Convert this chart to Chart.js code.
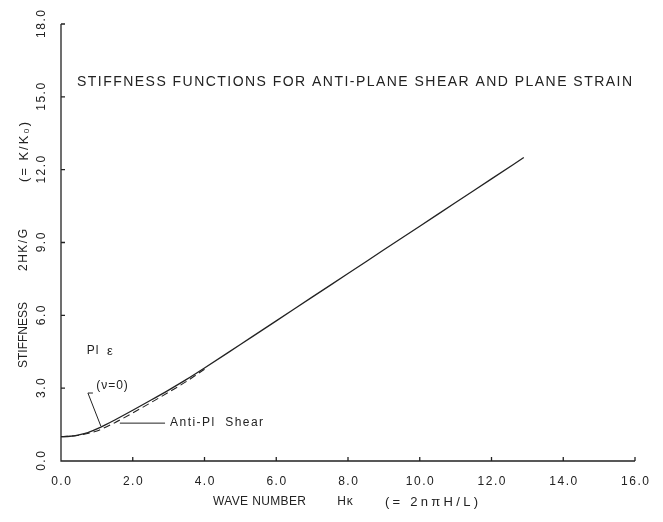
<!DOCTYPE html>
<html lang="en">
<head>
<meta charset="UTF-8">
<title>Stiffness functions</title>
<script src="https://cdn.jsdelivr.net/npm/chart.js"></script>
<style>
  body { margin: 0; background: #fff; }
  #wrap { width: 663px; height: 522px; }
</style>
</head>
<body>
<div id="wrap"><canvas id="stiffness-chart" width="663" height="522"></canvas></div>
<script>
// wave number Hk and stiffness 2HK/G
const waveNumber = [0, 0.25, 0.5, 0.75, 1.0, 1.25, 1.5, 2.0, 2.5, 3.0, 3.5, 4.0, 5.0, 6.0, 7.0, 8.0, 9.0, 10.0, 11.0, 12.0, 12.9];
const planeStrain = [1.0, 1.02, 1.08, 1.17, 1.32, 1.5, 1.69, 2.09, 2.5, 2.92, 3.36, 3.83, 4.8, 5.77, 6.75, 7.72, 8.7, 9.67, 10.65, 11.62, 12.5];
// anti-plane shear only separates from the plane strain curve at low Hk
const antiPlaneWave = [0, 0.5, 1.0, 1.5, 2.0, 2.5, 3.0, 3.5, 4.0];
const antiPlaneShear = [1.0, 1.06, 1.24, 1.58, 1.98, 2.4, 2.83, 3.28, 3.78];
const xTicks = [0, 2, 4, 6, 8, 10, 12, 14, 16];
const yTicks = [0, 3, 6, 9, 12, 15, 18];

const ink = '#222';
const font = '"Liberation Sans", "DejaVu Sans", sans-serif';

// text with optional letter spacing so it spreads to a given width
function drawText(ctx, text, px, py, size, opts = {}) {
  ctx.save();
  ctx.font = size + 'px ' + font;
  ctx.letterSpacing = '0px';
  let w = ctx.measureText(text).width;
  let spacing = opts.spacing || 0;
  if (opts.width) spacing = Math.max(0, (opts.width - w) / (text.length - 1));
  ctx.letterSpacing = spacing + 'px';
  w = w + spacing * (text.length - 1);
  ctx.translate(px, py);
  if (opts.rotate) ctx.rotate(opts.rotate);
  ctx.textAlign = 'left';
  ctx.textBaseline = 'middle';
  const x0 = opts.align === 'center' ? -w / 2 : 0;
  ctx.fillText(text, x0, 0);
  ctx.restore();
}

const plotterAxes = {
  id: 'plotterAxes',
  afterDatasetsDraw(chart) {
    const { ctx, scales: { x, y } } = chart;
    const left = x.getPixelForValue(0), right = x.getPixelForValue(16);
    const bottom = y.getPixelForValue(0), top = y.getPixelForValue(18);
    ctx.save();
    ctx.strokeStyle = ink;
    ctx.fillStyle = ink;
    ctx.lineWidth = 1.3;

    // axes with inward ticks
    ctx.beginPath();
    ctx.moveTo(left, top);
    ctx.lineTo(left, bottom);
    ctx.lineTo(right, bottom);
    xTicks.forEach(v => {
      const px = x.getPixelForValue(v);
      ctx.moveTo(px, bottom);
      ctx.lineTo(px, bottom - 4);
    });
    yTicks.forEach(v => {
      const py = y.getPixelForValue(v);
      ctx.moveTo(left, py);
      ctx.lineTo(left + 4, py);
    });
    ctx.stroke();

    xTicks.forEach(v => drawText(ctx, v.toFixed(1), x.getPixelForValue(v), bottom + 21, 12, { spacing: 1.5, align: 'center' }));
    yTicks.forEach(v => drawText(ctx, v.toFixed(1), left - 19, y.getPixelForValue(v), 12, { spacing: 1.5, align: 'center', rotate: -Math.PI / 2 }));

    // axis titles
    drawText(ctx, 'WAVE NUMBER', 213, bottom + 41, 12, { width: 93 });
    drawText(ctx, 'H\u03ba', 345, bottom + 41, 12, { spacing: 1, align: 'center' });
    drawText(ctx, '(= 2n\u03c0H/L)', 385, bottom + 41, 13, { width: 93 });
    drawText(ctx, 'STIFFNESS', 24, 335, 12, { width: 63, align: 'center', rotate: -Math.PI / 2 });
    drawText(ctx, '2HK/G', 24, 250, 12, { width: 42, align: 'center', rotate: -Math.PI / 2 });
    drawText(ctx, '(= K/K\u2080)', 24, 152, 13, { width: 60, align: 'center', rotate: -Math.PI / 2 });

    drawText(ctx, 'STIFFNESS FUNCTIONS FOR ANTI-PLANE SHEAR AND PLANE STRAIN', 77, 82, 14, { width: 555 });

    // curve labels and leaders, placed in data units
    const p = (a, b) => [x.getPixelForValue(a), y.getPixelForValue(b)];
    drawText(ctx, 'Pl', ...p(0.72, 4.53), 12, { spacing: 1 });
    drawText(ctx, '\u03b5', ...p(1.28, 4.5), 13);
    drawText(ctx, '(\u03bd=0)', ...p(0.98, 3.09), 12, { spacing: 1 });
    drawText(ctx, 'Anti-Pl  Shear', ...p(3.04, 1.56), 12, { width: 93 });

    ctx.lineWidth = 1;
    ctx.beginPath();
    ctx.moveTo(...p(0.89, 2.8));
    ctx.lineTo(...p(0.75, 2.8));
    ctx.lineTo(...p(1.11, 1.44));
    ctx.moveTo(...p(1.64, 1.56));
    ctx.lineTo(...p(2.9, 1.56));
    ctx.stroke();
    ctx.restore();
  }
};

const toPoints = (xs, ys) => xs.map((v, i) => ({ x: v, y: ys[i] }));

new Chart(document.getElementById('stiffness-chart'), {
  type: 'line',
  data: {
    datasets: [
      {
        label: 'Plane strain (\u03bd=0)',
        data: toPoints(waveNumber, planeStrain),
        borderColor: ink,
        borderWidth: 1.3,
        pointRadius: 0,
        cubicInterpolationMode: 'monotone',
        fill: false
      },
      {
        label: 'Anti-plane shear',
        data: toPoints(antiPlaneWave, antiPlaneShear),
        borderColor: ink,
        borderWidth: 1.1,
        borderDash: [7, 4],
        pointRadius: 0,
        cubicInterpolationMode: 'monotone',
        fill: false
      }
    ]
  },
  options: {
    responsive: false,
    animation: false,
    layout: { padding: { left: 61, top: 24, right: 28, bottom: 61 } },
    scales: {
      x: { type: 'linear', min: 0, max: 16, display: false },
      y: { type: 'linear', min: 0, max: 18, display: false }
    },
    plugins: { legend: { display: false }, tooltip: { enabled: false } }
  },
  plugins: [plotterAxes]
});
</script>
</body>
</html>
